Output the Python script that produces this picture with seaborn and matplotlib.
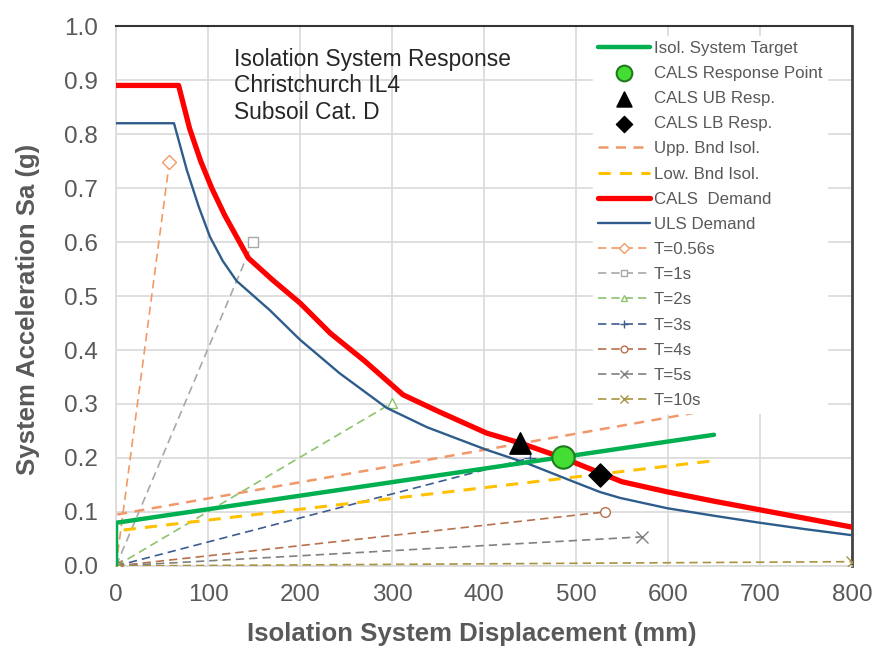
import matplotlib
matplotlib.use("Agg")
import matplotlib.pyplot as plt
import seaborn as sns
import pandas as pd
from matplotlib.ticker import MultipleLocator

# ---------------- data ----------------
cals_x = [0, 68, 80, 92, 104, 118, 131, 144, 170, 200, 233, 270, 312, 352, 403, 439, 486, 550, 600, 650, 700, 750, 800]
cals_y = [0.89, 0.89, 0.81, 0.75, 0.70, 0.65, 0.61, 0.57, 0.53, 0.487, 0.431, 0.38, 0.317, 0.285, 0.246, 0.228, 0.2, 0.156, 0.137, 0.12, 0.104, 0.088, 0.072]

uls_x = [0, 63, 77, 90, 102, 116, 131, 167, 200, 243, 294, 338, 403, 447, 493, 526, 548, 599, 650, 700, 750, 800]
uls_y = [0.82, 0.82, 0.733, 0.665, 0.61, 0.565, 0.528, 0.474, 0.419, 0.357, 0.293, 0.257, 0.215, 0.19, 0.159, 0.137, 0.126, 0.107, 0.093, 0.08, 0.068, 0.057]

target_x = [0, 0, 650]
target_y = [0.0, 0.08, 0.243]
upper_x = [0, 0, 650]
upper_y = [0.0, 0.095, 0.29]
lower_x = [0, 0, 650]
lower_y = [0.0, 0.065, 0.195]

resp_pt = (486, 0.202)
ub_pt = (439, 0.228)
lb_pt = (526, 0.169)

period_labels = ["T=0.56s", "T=1s", "T=2s", "T=3s", "T=4s", "T=5s", "T=10s"]
period_end_x = [58, 149, 300, 450, 531, 572, 800]
period_end_y = [0.748, 0.6, 0.302, 0.2, 0.1, 0.054, 0.008]
period_colors = ["#F29A66", "#A8A8A8", "#8CC46C", "#3E5C90", "#B8704C", "#808080", "#A89440"]
period_markers = ["D", "s", "^", "+", "o", "x", "x"]

x_ticks = [0, 100, 200, 300, 400, 500, 600, 700, 800]
y_ticks = [0.0, 0.1, 0.2, 0.3, 0.4, 0.5, 0.6, 0.7, 0.8, 0.9, 1.0]

annotation = "Isolation System Response\nChristchurch IL4\nSubsoil Cat. D"

# ---------------- plot ----------------
sns.set_style("white")
plt.rcParams['font.family'] = ['Liberation Sans', 'DejaVu Sans']

fig = plt.figure(figsize=(8.77, 6.51), dpi=100)
ax = fig.add_axes([0.1323, 0.1306, 0.8392, 0.8294])

# period lines
for lab, ex, ey, c, m in zip(period_labels, period_end_x, period_end_y, period_colors, period_markers):
    df = pd.DataFrame({"x": [0, ex], "y": [0, ey]})
    filled = m not in ("+", "x")
    sns.lineplot(data=df, x="x", y="y", sort=False, estimator=None, ax=ax, color=c, lw=1.2,
                 linestyle=(0, (5, 3)), marker=m, markersize=7 if filled else 8,
                 markerfacecolor="white" if filled else c, markeredgecolor=c,
                 markeredgewidth=1.0, label=lab, zorder=3)

sns.lineplot(x=upper_x, y=upper_y, sort=False, estimator=None, ax=ax, color="#F0986A", lw=1.8,
             linestyle=(0, (4, 3)), label="Upp. Bnd Isol.", zorder=4)
sns.lineplot(x=lower_x, y=lower_y, sort=False, estimator=None, ax=ax, color="#FFC000", lw=2.2,
             linestyle=(0, (4, 3)), label="Low. Bnd Isol.", zorder=4)
sns.lineplot(x=uls_x, y=uls_y, sort=False, estimator=None, ax=ax, color="#2E5D8C", lw=1.7,
             label="ULS Demand", zorder=5)
sns.lineplot(x=cals_x, y=cals_y, sort=False, estimator=None, ax=ax, color="#FF0000", lw=3.8,
             label="CALS  Demand", zorder=6)
sns.lineplot(x=target_x, y=target_y, sort=False, estimator=None, ax=ax, color="#00B050", lw=3.2,
             label="Isol. System Target", zorder=7)

sns.scatterplot(x=[resp_pt[0]], y=[resp_pt[1]], ax=ax, marker="o", s=260,
                color="#44DD33", edgecolor="#1E7A1E", linewidth=1.5,
                label="CALS Response Point", zorder=9)
sns.scatterplot(x=[ub_pt[0]], y=[ub_pt[1]], ax=ax, marker="^", s=230,
                color="black", edgecolor="black", label="CALS UB Resp.", zorder=9)
sns.scatterplot(x=[lb_pt[0]], y=[lb_pt[1]], ax=ax, marker="D", s=140,
                color="black", edgecolor="black", label="CALS LB Resp.", zorder=9)

ax.set_xlim(0, 800)
ax.set_ylim(0, 1.0)
ax.set_xticks(x_ticks)
ax.set_yticks(y_ticks)
ax.set_xticklabels([str(v) for v in x_ticks])
ax.set_yticklabels([f"{v:.1f}" for v in y_ticks])
ax.yaxis.set_minor_locator(MultipleLocator(0.05))
ax.tick_params(axis="both", which="major", labelsize=17.5, labelcolor="#595959",
               length=6, color="#D0D0D0", direction="out", pad=7)
ax.tick_params(axis="y", which="minor", length=6, color="#D0D0D0", direction="inout")
ax.grid(True, which="major", color="#D9D9D9", lw=1.2)
ax.set_axisbelow(True)

for side in ["left", "bottom"]:
    ax.spines[side].set_color("#D9D9D9")
    ax.spines[side].set_linewidth(1.2)
ax.spines["top"].set_color("#333333")
ax.spines["top"].set_linewidth(1.5)
ax.spines["right"].set_color("#444444")
ax.spines["right"].set_linewidth(2)

ax.set_xlabel("Isolation System Displacement (mm)", fontsize=18.5, fontweight="bold",
              color="#595959")
ax.set_ylabel("System Acceleration Sa (g)", fontsize=18.5, fontweight="bold",
              color="#595959")
ax.xaxis.set_label_coords(0.484, -0.104)
ax.yaxis.set_label_coords(-0.103, 0.476)

ax.text(0.16, 0.96, annotation, transform=ax.transAxes, fontsize=16.4,
        color="#262626", va="top", ha="left", linespacing=1.2)

order = ["Isol. System Target", "CALS Response Point", "CALS UB Resp.", "CALS LB Resp.",
         "Upp. Bnd Isol.", "Low. Bnd Isol.", "CALS  Demand", "ULS Demand"] + period_labels
handles, labels = ax.get_legend_handles_labels()
hmap = dict(zip(labels, handles))
leg = ax.legend([hmap[l] for l in order], order, loc="upper left",
                bbox_to_anchor=(0.636, 0.998), fontsize=12.2, frameon=True,
                facecolor="white", edgecolor="white", framealpha=1,
                handlelength=3.1, handletextpad=0.2, labelspacing=0.6,
                borderpad=0.3, markerscale=0.7)
for t in leg.get_texts():
    t.set_color("#595959")

fig.savefig("out.png", dpi=100)
